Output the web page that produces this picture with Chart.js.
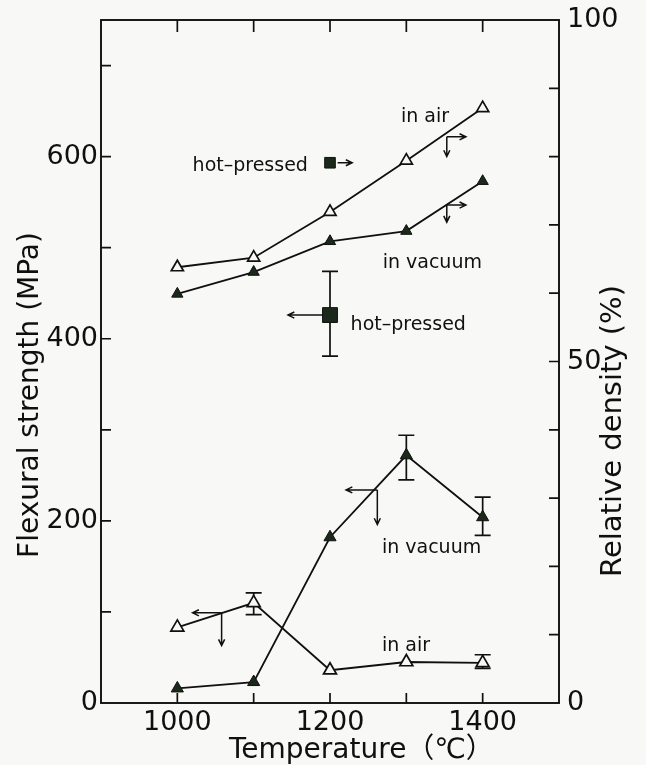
<!DOCTYPE html>
<html>
<head>
<meta charset="utf-8">
<script src="https://cdn.jsdelivr.net/npm/chart.js@4.4.1/dist/chart.umd.min.js"></script>
<style>
  html, body { margin: 0; padding: 0; background: #f8f8f6; }
  #wrap { width: 646px; height: 765px; }
</style>
</head>
<body>
<div id="wrap"><canvas id="fig" width="646" height="765"></canvas></div>
<script>
// sintering temperature (°C)
const temps = [1000, 1100, 1200, 1300, 1400];

// relative density (%), right axis
const densityAir = [63.8, 65.2, 71.9, 79.4, 87.1];
const densityVacuum = [59.9, 63.1, 67.6, 69.1, 76.4];

// flexural strength (MPa), left axis
const strengthAir = [83, 110, 36, 45, 44];
const strengthVacuum = [16, 23, 182, 272, 204];

// scatter of strength: [low, high] or null
const strengthAirRange = [null, [97, 121], null, null, [38, 53]];
const strengthVacuumRange = [null, null, null, [245, 294], [184, 226]];

// hot-pressed reference sample
const hotPressedTemp = 1200;
const hotPressedDensity = 79.1;
const hotPressedStrength = 426;
const hotPressedRange = [381, 474];

// axis ticks
const xTicks = [1000, 1100, 1200, 1300, 1400];
const xLabels = [1000, 1200, 1400];
const strengthTicks = [100, 200, 300, 400, 500, 600, 700];
const strengthLabels = [0, 200, 400, 600];
const densityTicks = [10, 20, 30, 40, 50, 60, 70, 80, 90];
const densityLabels = [0, 50, 100];

const INK = '#101010';
const DARK = '#1b291b';
const PAPER = '#f8f8f6';
const FONT = '"DejaVu Sans", "Noto Sans CJK JP", sans-serif';

// arrows pointing to the axis each curve belongs to
const arrows = [
  { axis: 'y2', from: [1353, 82.9], to: [1353, 80.0] },
  { axis: 'y2', from: [1353, 82.9], to: [1378, 82.9] },
  { axis: 'y2', from: [1353, 72.9], to: [1353, 70.4] },
  { axis: 'y2', from: [1353, 72.9], to: [1378, 72.9] },
  { axis: 'y2', from: [1210, 79.1], to: [1229, 79.1] },
  { axis: 'y', from: [1058, 99], to: [1058, 63] },
  { axis: 'y', from: [1058, 99], to: [1020, 99] },
  { axis: 'y', from: [1262, 234], to: [1262, 196] },
  { axis: 'y', from: [1262, 234], to: [1221, 234] },
  { axis: 'y', from: [1191, 426], to: [1145, 426] }
];

// curve labels, left edge / baseline in strength units
const notes = [
  { text: 'in air', at: [1293, 638] },
  { text: 'hot\u2013pressed', at: [1020, 584] },
  { text: 'in vacuum', at: [1269, 478] },
  { text: 'hot\u2013pressed', at: [1227, 410] },
  { text: 'in vacuum', at: [1268, 165] },
  { text: 'in air', at: [1268, 57] }
];

const toXY = (xs, ys) => xs.map((x, i) => ({ x: x, y: ys[i] }));

function drawArrow(ctx, x0, y0, x1, y1) {
  const a = Math.atan2(y1 - y0, x1 - x0);
  const h = 7;
  ctx.beginPath();
  ctx.moveTo(x0, y0);
  ctx.lineTo(x1, y1);
  ctx.moveTo(x1 - h * Math.cos(a - 0.45), y1 - h * Math.sin(a - 0.45));
  ctx.lineTo(x1, y1);
  ctx.lineTo(x1 - h * Math.cos(a + 0.45), y1 - h * Math.sin(a + 0.45));
  ctx.stroke();
}

function drawRange(ctx, px, lowPx, highPx) {
  const c = 8;
  ctx.beginPath();
  ctx.moveTo(px, lowPx);
  ctx.lineTo(px, highPx);
  ctx.moveTo(px - c, lowPx);
  ctx.lineTo(px + c, lowPx);
  ctx.moveTo(px - c, highPx);
  ctx.lineTo(px + c, highPx);
  ctx.stroke();
}

const figurePlugin = {
  id: 'figure',
  beforeDraw(chart) {
    const ctx = chart.ctx;
    ctx.save();
    ctx.fillStyle = PAPER;
    ctx.fillRect(0, 0, chart.width, chart.height);
    ctx.restore();
  },
  beforeDatasetsDraw(chart) {
    const { ctx, scales } = chart;
    ctx.save();
    ctx.strokeStyle = INK;
    ctx.lineWidth = 1.7;
    [strengthAirRange, strengthVacuumRange].forEach(ranges => {
      ranges.forEach((r, i) => {
        if (!r) return;
        drawRange(ctx, scales.x.getPixelForValue(temps[i]),
          scales.y.getPixelForValue(r[0]), scales.y.getPixelForValue(r[1]));
      });
    });
    drawRange(ctx, scales.x.getPixelForValue(hotPressedTemp),
      scales.y.getPixelForValue(hotPressedRange[0]), scales.y.getPixelForValue(hotPressedRange[1]));
    ctx.restore();
  },
  afterDraw(chart) {
    const { ctx, scales, chartArea: a } = chart;
    ctx.save();
    ctx.strokeStyle = INK;

    // frame
    ctx.lineWidth = 1.9;
    ctx.strokeRect(a.left, a.top, a.right - a.left, a.bottom - a.top);

    // inward ticks
    const t = 10;
    ctx.lineWidth = 1.7;
    ctx.beginPath();
    xTicks.forEach(v => {
      const px = scales.x.getPixelForValue(v);
      ctx.moveTo(px, a.bottom); ctx.lineTo(px, a.bottom - t);
      ctx.moveTo(px, a.top); ctx.lineTo(px, a.top + t + 2);
    });
    strengthTicks.forEach(v => {
      const py = scales.y.getPixelForValue(v);
      ctx.moveTo(a.left, py); ctx.lineTo(a.left + t, py);
    });
    densityTicks.forEach(v => {
      const py = scales.y2.getPixelForValue(v);
      ctx.moveTo(a.right, py); ctx.lineTo(a.right - t, py);
    });
    ctx.stroke();

    // arrows
    ctx.lineWidth = 1.5;
    arrows.forEach(ar => {
      const ys = scales[ar.axis];
      drawArrow(ctx,
        scales.x.getPixelForValue(ar.from[0]), ys.getPixelForValue(ar.from[1]),
        scales.x.getPixelForValue(ar.to[0]), ys.getPixelForValue(ar.to[1]));
    });

    // curve labels
    ctx.fillStyle = INK;
    ctx.font = '19px ' + FONT;
    ctx.textAlign = 'left';
    ctx.textBaseline = 'alphabetic';
    notes.forEach(n => {
      ctx.fillText(n.text, scales.x.getPixelForValue(n.at[0]), scales.y.getPixelForValue(n.at[1]));
    });

    // axis titles
    ctx.font = '28px ' + FONT;
    ctx.fillText('Temperature（℃）', 229, 758);

    ctx.textAlign = 'center';
    ctx.textBaseline = 'middle';
    ctx.translate(31, 395);
    ctx.rotate(-Math.PI / 2);
    ctx.fillText('Flexural strength (MPa)', 0, 0);
    ctx.setTransform(1, 0, 0, 1, 0, 0);
    ctx.translate(613, 431);
    ctx.rotate(-Math.PI / 2);
    ctx.font = '29px ' + FONT;
    ctx.fillText('Relative density (%)', 0, 0);
    ctx.restore();
  }
};

const tickFont = { family: FONT, size: 27 };

// edge labels may overhang the frame; keep the plot box fixed
const noEdgePad = s => {
  s.paddingTop = 0; s.paddingBottom = 0;
  s.paddingLeft = 0; s.paddingRight = 0;
};

function curve(label, xs, ys, axis, filled, r) {
  return {
    label: label,
    data: toXY(xs, ys),
    yAxisID: axis,
    showLine: true,
    borderColor: INK,
    borderWidth: 1.8,
    pointStyle: 'triangle',
    pointRadius: r,
    pointBackgroundColor: filled ? DARK : PAPER,
    pointBorderColor: INK,
    pointBorderWidth: filled ? 1 : 1.7
  };
}

new Chart(document.getElementById('fig'), {
  type: 'scatter',
  data: {
    datasets: [
      curve('density, in air', temps, densityAir, 'y2', false, 7),
      curve('density, in vacuum', temps, densityVacuum, 'y2', true, 6.5),
      curve('strength, in air', temps, strengthAir, 'y', false, 7.5),
      curve('strength, in vacuum', temps, strengthVacuum, 'y', true, 7),
      {
        label: 'hot-pressed density',
        data: [{ x: hotPressedTemp, y: hotPressedDensity }],
        yAxisID: 'y2',
        pointStyle: 'rect',
        pointRadius: 7.5,
        pointBackgroundColor: DARK,
        pointBorderColor: INK,
        pointBorderWidth: 1
      },
      {
        label: 'hot-pressed strength',
        data: [{ x: hotPressedTemp, y: hotPressedStrength }],
        yAxisID: 'y',
        pointStyle: 'rect',
        pointRadius: 10.5,
        pointBackgroundColor: DARK,
        pointBorderColor: INK,
        pointBorderWidth: 1
      }
    ]
  },
  options: {
    responsive: false,
    animation: false,
    devicePixelRatio: 1,
    layout: { padding: { top: 20, left: 0, right: 0, bottom: 0 } },
    plugins: {
      legend: { display: false },
      tooltip: { enabled: false }
    },
    scales: {
      x: {
        type: 'linear',
        position: 'bottom',
        min: 900,
        max: 1500,
        grid: { display: false, drawTicks: false },
        border: { display: false },
        afterFit: s => { s.height = 62; noEdgePad(s); },
        ticks: {
          stepSize: 100,
          padding: 4,
          color: INK,
          font: tickFont,
          maxRotation: 0,
          autoSkip: false,
          callback: v => xLabels.includes(v) ? String(v) : ''
        }
      },
      y: {
        type: 'linear',
        position: 'left',
        min: 0,
        max: 750,
        grid: { display: false, drawTicks: false },
        border: { display: false },
        afterFit: s => { s.width = 101; noEdgePad(s); },
        ticks: {
          stepSize: 100,
          includeBounds: false,
          padding: 3,
          color: INK,
          font: tickFont,
          autoSkip: false,
          callback: v => strengthLabels.includes(v) ? String(v) : ''
        }
      },
      y2: {
        type: 'linear',
        position: 'right',
        min: 0,
        max: 100,
        grid: { display: false, drawTicks: false },
        border: { display: false },
        afterFit: s => { s.width = 87; noEdgePad(s); },
        ticks: {
          stepSize: 10,
          padding: 8,
          color: INK,
          font: tickFont,
          autoSkip: false,
          callback: v => densityLabels.includes(v) ? String(v) : ''
        }
      }
    }
  },
  plugins: [figurePlugin]
});
</script>
</body>
</html>
